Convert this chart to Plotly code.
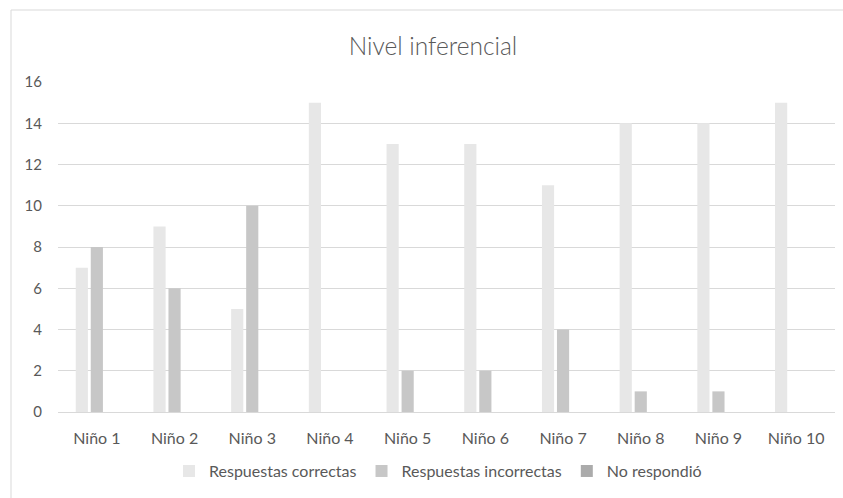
import plotly.graph_objects as go

categories = ["Niño 1", "Niño 2", "Niño 3", "Niño 4", "Niño 5", "Niño 6", "Niño 7", "Niño 8", "Niño 9", "Niño 10"]
correctas = [7, 9, 5, 15, 13, 13, 11, 14, 14, 15]
incorrectas = [8, 6, 10, 0, 2, 2, 4, 1, 1, 0]
no_respondio = [0, 0, 0, 0, 0, 0, 0, 0, 0, 0]
series_names = ["Respuestas correctas", "Respuestas incorrectas", "No respondió"]
colors = ["#e7e7e7", "#c7c7c7", "#ababab"]
y_ticks = [0, 2, 4, 6, 8, 10, 12, 14, 16]

fig = go.Figure()
for name, vals, col in zip(series_names, [correctas, incorrectas, no_respondio], colors):
    fig.add_trace(go.Bar(x=categories, y=vals, name=name, marker=dict(color=col, line=dict(width=0))))

font_family = "Lato, Open Sans, sans-serif"
fig.update_layout(
    width=843, height=498,
    margin=dict(l=58, r=8, t=82, b=86),
    paper_bgcolor="white", plot_bgcolor="white",
    barmode="group", bargap=0.42, bargroupgap=0.19,
    title=dict(text="Nivel inferencial", xref="paper", x=(433-58)/777, xanchor="center",
               y=1 - 46/498, yanchor="middle",
               font=dict(family=font_family, size=24.5, color="#595959", weight=300)),
    font=dict(family=font_family, size=16, color="#595959"),
    legend=dict(orientation="h", x=(438-58)/777, xanchor="center", y=-0.179, yanchor="middle",
                font=dict(size=16, color="#595959"), itemwidth=30, traceorder="normal"),
    xaxis=dict(showgrid=False, showline=True, linecolor="#d9d9d9", linewidth=1, ticks="",
               tickfont=dict(size=16, color="#595959"), ticklabelstandoff=12),
    yaxis=dict(range=[0, 16], tickvals=y_ticks, showgrid=True, gridcolor="#d9d9d9", gridwidth=1,
               zeroline=False, showline=False, ticks="", tickfont=dict(size=15, color="#595959"),
               ticklabelstandoff=15),
    shapes=[dict(type="rect", xref="paper", yref="paper", x0=(11-58)/777, x1=(846-58)/777,
                 y0=(412-502)/330, y1=(412-10)/330, line=dict(color="#d9d9d9", width=1),
                 fillcolor="rgba(0,0,0,0)", layer="below")],
)
fig.write_html("out.html", post_script="document.body.style.margin='0';",
               config={"displayModeBar": False})
